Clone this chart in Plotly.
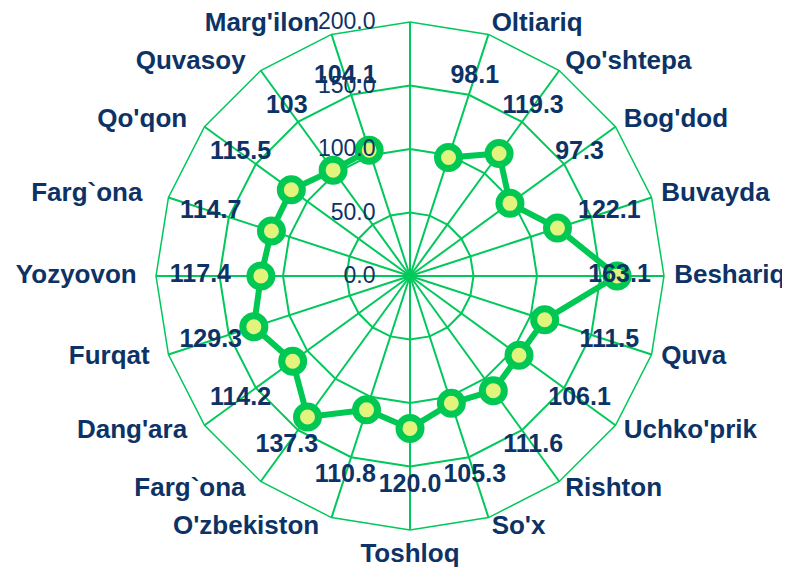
import math
import plotly.graph_objects as go

# Categories clockwise from the top (the top spoke has no label / no value)
CATEGORIES = [" ", "Oltiariq", "Qo'shtepa", "Bog'dod", "Buvayda", "Beshariq", "Quva",
              "Uchko'prik", "Rishton", "So'x", "Toshloq", "O'zbekiston", "Farg`ona",
              "Dang'ara", "Furqat", "Yozyovon", "Farg`ona ", "Qo'qon", "Quvasoy",
              "Marg'ilon"]
VALUES = [None, 98.1, 119.3, 97.3, 122.1, 163.1, 111.5, 106.1, 111.6, 105.3, 120.0,
          110.8, 137.3, 114.2, 129.3, 117.4, 114.7, 115.5, 103, 104.1]
VALUE_LABELS = ["", "98.1", "119.3", "97.3", "122.1", "163.1", "111.5", "106.1", "111.6",
                "105.3", "120.0", "110.8", "137.3", "114.2", "129.3", "117.4", "114.7",
                "115.5", "103", "104.1"]
RADIAL_TICKS = [0, 50, 100, 150, 200]
R_MAX = 200

NAVY = "#0d3366"
GREEN = "#00c85a"
LINE_GREEN = "#00c853"
FILL = "#e2f47c"
FONT = "Liberation Sans, Arial, sans-serif"
LABEL_R = 165          # radius of the value labels
CAT_LABEL_R = 208      # anchor radius of the category labels

# ---- layout geometry (figure pixels) ----
W, H = 790, 567
CX, CY = 402, 268      # chart centre inside the figure
R1 = 254               # outer ring radius in px
R2 = 268               # radius of the invisible label layer


def dom(cx, cy, r):
    return dict(x=[(cx - r) / W, (cx + r) / W],
                y=[(H - (cy + r)) / H, min(1.0, (H - (cy - r)) / H)])


# text placement of category labels, derived from each spoke's direction
n = len(CATEGORIES)
cat_pos, cat_pad = [], []
for i in range(n):
    s = math.sin(math.radians(i * 360 / n))
    if s > 0.2:
        cat_pos.append("middle right"); cat_pad.append(0)
    elif s < -0.2:
        cat_pos.append("middle left"); cat_pad.append(13)
    else:
        cat_pos.append("bottom center"); cat_pad.append(2)

fig = go.Figure()
fig.add_trace(go.Scatterpolar(
    r=VALUES, theta=CATEGORIES, mode="lines+markers",
    line=dict(color=LINE_GREEN, width=6),
    marker=dict(size=22, color=FILL, line=dict(color=LINE_GREEN, width=7)),
    connectgaps=False, showlegend=False, hoverinfo="r+theta",
))
fig.add_trace(go.Scatterpolar(
    r=[LABEL_R if v is not None else None for v in VALUES], theta=CATEGORIES,
    mode="text", text=VALUE_LABELS, textposition="middle center",
    textfont=dict(family=FONT, size=25, color=NAVY, weight="bold"),
    showlegend=False, hoverinfo="skip",
))
fig.add_trace(go.Scatterpolar(
    r=[CAT_LABEL_R] * n, theta=CATEGORIES, subplot="polar2",
    mode="markers+text", text=CATEGORIES, textposition=cat_pos,
    marker=dict(size=cat_pad, opacity=0, color="white"),
    textfont=dict(family=FONT, size=26, color=NAVY, weight="bold"),
    cliponaxis=False, showlegend=False, hoverinfo="skip",
))

angular_common = dict(type="category", categoryorder="array", categoryarray=CATEGORIES,
                      direction="clockwise", rotation=90)

fig.update_layout(
    width=W, height=H,
    margin=dict(l=0, r=0, t=0, b=0, autoexpand=False),
    paper_bgcolor="white",
    polar=dict(
        domain=dom(CX, CY, R1),
        bgcolor="white",
        gridshape="linear",
        angularaxis=dict(
            **angular_common,
            showline=True, linecolor=GREEN, linewidth=1.5,
            showgrid=True, gridcolor=GREEN, gridwidth=1.5,
            ticks="", showticklabels=False,
        ),
        radialaxis=dict(
            range=[0, R_MAX], tickvals=RADIAL_TICKS, tickformat=".1f",
            angle=90, side="counterclockwise",
            showline=False, showgrid=True, gridcolor=GREEN, gridwidth=1.5,
            ticks="outside", ticklen=26, tickcolor="rgba(0,0,0,0)",
            tickfont=dict(family=FONT, size=23, color=NAVY),
            tickangle=90,
        ),
    ),
    polar2=dict(
        domain=dom(CX, CY, R2),
        bgcolor="rgba(0,0,0,0)",
        angularaxis=dict(**angular_common, visible=False),
        radialaxis=dict(range=[0, R_MAX * R2 / R1], visible=False),
    ),
)

fig.write_html("out.html")
